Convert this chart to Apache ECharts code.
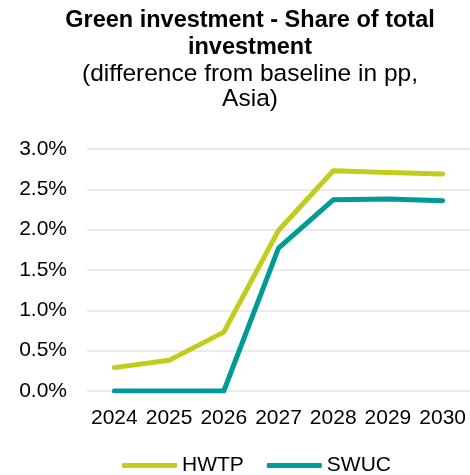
<!DOCTYPE html>
<html>
<head>
<meta charset="utf-8">
<script src="https://cdn.jsdelivr.net/npm/echarts@6/dist/echarts.min.js"></script>
<style>
html, body { margin: 0; padding: 0; background: #fff; }
#chart { width: 470px; height: 475px; }
</style>
</head>
<body>
<div id="chart"></div>
<script>
// Years on the category axis
const years = ['2024', '2025', '2026', '2027', '2028', '2029', '2030'];
// Difference from baseline, percentage points
const hwtp = [0.29, 0.38, 0.73, 1.99, 2.73, 2.71, 2.69];
const swuc = [0.00, 0.00, 0.00, 1.77, 2.37, 2.38, 2.36];
const seriesNames = ['HWTP', 'SWUC'];
const seriesColors = ['#c3cc1c', '#009a98'];

const font = '"Liberation Sans", Arial, sans-serif';
const chart = echarts.init(document.getElementById('chart'), null, { renderer: 'canvas' });

chart.setOption({
  animation: false,
  backgroundColor: '#ffffff',
  title: {
    text: 'Green investment - Share of total\ninvestment',
    subtext: '(difference from baseline in pp,\nAsia)',
    left: 250,
    textAlign: 'center',
    top: 7,
    itemGap: 1,
    padding: 0,
    textStyle: { fontFamily: font, fontSize: 23.5, fontWeight: 'bold', color: '#000', lineHeight: 27 },
    subtextStyle: { fontFamily: font, fontSize: 24.5, color: '#000', lineHeight: 25 }
  },
  legend: {
    data: seriesNames,
    left: 117,
    top: 450,
    icon: 'roundRect',
    itemWidth: 55,
    itemHeight: 5,
    itemGap: 23,
    textStyle: { fontFamily: font, fontSize: 21, color: '#000' }
  },
  grid: { left: 87, top: 149, width: 388, height: 242, containLabel: false },
  xAxis: {
    type: 'category',
    data: years,
    boundaryGap: true,
    axisLine: { show: false },
    axisTick: { show: false },
    axisLabel: { fontFamily: font, fontSize: 21, color: '#000', margin: 17, interval: 0, hideOverlap: false }
  },
  yAxis: {
    type: 'value',
    min: 0,
    max: 3,
    interval: 0.5,
    axisLine: { show: false },
    axisTick: { show: false },
    splitLine: { lineStyle: { color: '#e3e3e3', width: 1.5 } },
    axisLabel: {
      fontFamily: font, fontSize: 21, color: '#000', margin: 20,
      formatter: v => v.toFixed(1) + '%'
    }
  },
  series: [
    {
      name: seriesNames[0], type: 'line', data: hwtp,
      symbol: 'none', color: seriesColors[0],
      lineStyle: { width: 5, color: seriesColors[0], cap: 'round', join: 'round' }
    },
    {
      name: seriesNames[1], type: 'line', data: swuc,
      symbol: 'none', color: seriesColors[1],
      lineStyle: { width: 5, color: seriesColors[1], cap: 'round', join: 'round' }
    }
  ]
});
</script>
</body>
</html>
